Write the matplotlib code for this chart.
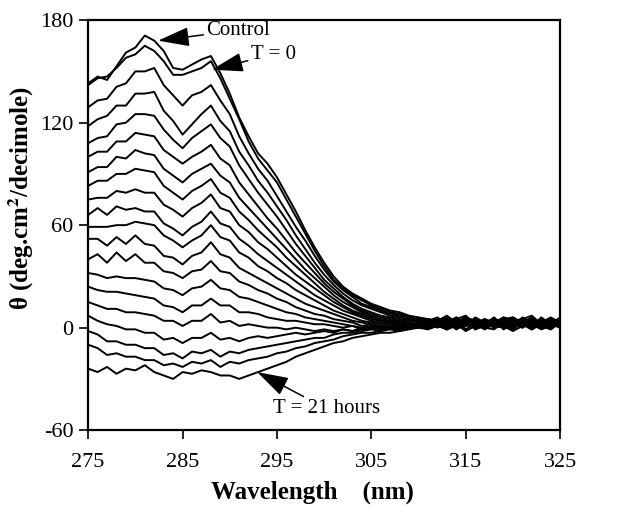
import matplotlib as mpl
mpl.use("Agg")
import matplotlib.pyplot as plt
import numpy as np

plt.rcParams["font.family"] = ["Liberation Serif", "DejaVu Serif"]
plt.rcParams["mathtext.fontset"] = "stix"
plt.rcParams["axes.unicode_minus"] = False

# wavelength grid (nm)
wavelength = list(range(275, 326))

# CD spectra, top (control) to bottom (T = 21 hours)
control = [143, 147, 145, 153, 161, 164, 171, 168, 162, 152, 151, 154, 157, 159, 149, 137, 123,
           112, 102, 96, 88, 78, 68, 57, 47, 38, 30, 24, 20, 17, 14, 12, 10, 9, 7, 6, 5,
           4, 7, 3, 6, 2, 5, 3, 6, 4, 2, 5, 3, 6, 3]
t0 = [142, 146, 147, 152, 158, 160, 165, 162, 156, 148, 148, 150, 152, 156, 146, 134, 122,
      109, 99, 92, 85, 75, 65, 55, 45, 36, 28, 23, 19, 16, 13, 11, 9, 8, 6, 5, 5,
      3, 6, 4, 1, 6, 3, 5, 2, 6, 3, 2, 5, 1, 4]
t1 = [129, 133, 134, 141, 143, 150, 150, 152, 142, 136, 130, 136, 138, 142, 133, 125, 112,
      102, 93, 86, 77, 68, 59, 51, 42, 34, 27, 22, 18, 14, 12, 10, 8, 7, 6, 5, 4,
      6, 2, 5, 7, 2, 4, 1, 5, 6, 2, 4, 1, 5, 3]
t2 = [118, 122, 124, 130, 130, 137, 137, 138, 127, 121, 113, 119, 125, 130, 121, 115, 103,
      95, 86, 79, 71, 63, 54, 46, 38, 31, 25, 20, 16, 13, 11, 9, 7, 6, 5, 4, 5,
      2, 5, 1, 6, 4, 2, 6, 1, 3, 5, 7, 2, 4, 1]
t3 = [108, 111, 112, 119, 120, 125, 125, 124, 116, 110, 105, 111, 115, 119, 111, 106, 95,
      87, 79, 72, 65, 57, 49, 42, 35, 28, 23, 18, 14, 11, 9, 7, 6, 5, 4, 5, 3,
      5, 1, 6, 2, 5, 3, 0, 6, 4, 2, 1, 5, 2, 6]
t4 = [100, 103, 103, 109, 109, 114, 113, 112, 104, 100, 96, 100, 103, 107, 99, 95, 85,
      78, 71, 64, 58, 51, 44, 38, 32, 26, 21, 17, 13, 10, 8, 6, 5, 4, 5, 3, 4,
      1, 5, 3, 6, 1, 3, 5, 0, 3, 5, 1, 6, 2, 4]
t5 = [91, 94, 94, 100, 99, 104, 102, 101, 93, 89, 85, 90, 93, 96, 89, 85, 76,
      70, 64, 58, 52, 46, 40, 34, 29, 24, 19, 15, 12, 9, 7, 5, 4, 4, 3, 4, 2,
      3, 6, 1, 4, 3, 0, 5, 3, 1, 6, 3, 1, 5, 3]
t6 = [83, 86, 86, 90, 90, 93, 92, 91, 83, 79, 75, 80, 83, 87, 79, 76, 68,
      63, 57, 52, 47, 41, 36, 31, 26, 21, 17, 13, 10, 8, 6, 4, 3, 4, 2, 3, 4,
      1, 3, 6, 1, 4, 0, 3, 5, 1, 3, 6, 0, 3, 1]
t7 = [75, 76, 76, 80, 79, 81, 79, 79, 72, 69, 65, 70, 73, 78, 70, 68, 60,
      56, 50, 46, 41, 36, 31, 27, 23, 19, 15, 12, 9, 7, 5, 4, 3, 2, 3, 1, 3,
      3, 5, 0, 3, 2, 5, 1, 0, 4, 5, 1, 3, 0, 4]
t8 = [66, 70, 66, 71, 69, 70, 68, 68, 61, 58, 54, 59, 62, 68, 61, 59, 52,
      48, 43, 39, 35, 31, 27, 23, 19, 16, 13, 10, 8, 6, 4, 3, 2, 3, 1, 2, 3,
      0, 3, 2, 5, 0, 2, 4, 0, 5, 1, 3, 0, 2, 4]
t9 = [59, 59, 59, 60, 60, 62, 61, 60, 54, 51, 47, 51, 54, 60, 53, 51, 44,
      41, 36, 33, 29, 26, 22, 19, 16, 13, 10, 8, 6, 4, 3, 2, 3, 1, 2, 0, 2,
      4, 0, 2, 5, -1, 2, 4, 0, 2, 4, 0, 5, 2, 0]
t10 = [52, 52, 48, 53, 49, 54, 49, 48, 42, 41, 37, 42, 44, 50, 43, 41, 35,
       32, 29, 26, 23, 20, 17, 14, 12, 10, 8, 6, 4, 3, 2, 1, 2, 0, 1, 2, 1,
       2, -1, 4, 1, 2, 5, 0, 2, -1, 4, 2, 0, 4, 2]
t11 = [40, 43, 38, 44, 39, 43, 38, 38, 33, 32, 29, 33, 34, 39, 33, 32, 27,
       25, 22, 20, 17, 15, 12, 10, 8, 7, 5, 4, 3, 1, 2, 0, 1, 2, 0, 1, 3,
       1, 3, -1, 4, 0, 2, 5, -1, 2, 0, 4, 2, -1, 3]
t12 = [32, 31, 29, 30, 29, 29, 28, 27, 23, 22, 19, 23, 24, 28, 23, 22, 18,
       17, 15, 13, 11, 9, 8, 6, 5, 4, 3, 2, 1, 0, 1, -1, 1, 0, 2, 1, 0,
       3, 1, 4, -1, 2, 0, 4, 2, -1, 3, 1, 4, 0, 2]
t13 = [24, 22, 21, 21, 20, 19, 18, 17, 13, 12, 9, 13, 13, 17, 13, 13, 9,
       9, 8, 6, 5, 4, 4, 3, 2, 2, 1, 0, 1, -1, 0, 1, -1, 0, 2, 0, 1,
       4, -1, 2, 1, 4, 0, -1, 3, 1, 4, -1, 2, 1, 4]
t14 = [15, 13, 11, 11, 9, 9, 8, 7, 4, 4, 1, 4, 4, 8, 3, 4, 1,
       2, 1, 0, 0, -1, 0, -1, -2, -1, -2, -1, -2, 0, -1, 1, 0, -1, 1, 0, 2,
       1, 3, 0, 4, -1, 1, 3, 5, 0, 2, -1, 4, 1, 2]
t15 = [7, 4, 2, 1, -1, -1, -3, -3, -7, -6, -9, -6, -6, -3, -7, -6, -8,
       -6, -5, -6, -5, -4, -3, -4, -3, -2, -3, -1, -2, -1, 0, -1, 1, 0, 2, 1, 0,
       2, 0, 4, -1, 2, 4, 0, 2, 5, 0, 3, 1, -1, 3]
t16 = [-2, -4, -8, -8, -10, -10, -12, -12, -16, -15, -18, -14, -15, -13, -17, -14, -15,
       -13, -12, -11, -10, -9, -8, -7, -6, -6, -4, -3, -3, -2, -1, -2, 0, -1, 1, 0, 2,
       1, 4, -1, 2, 0, 3, 2, 5, 0, 2, 4, 1, 5, 2]
t17 = [-10, -12, -16, -15, -17, -17, -19, -19, -22, -21, -23, -20, -21, -19, -23, -20, -21,
       -19, -18, -17, -15, -14, -12, -11, -9, -8, -7, -5, -4, -3, -3, -2, -1, -2, 0, 1, 0,
       2, -1, 1, 4, 2, -1, 2, 4, 0, 2, -1, 3, 4, 0]
t21h = [-24, -26, -23, -27, -24, -25, -22, -26, -28, -30, -26, -27, -25, -26, -28, -28, -30,
        -28, -26, -24, -22, -20, -17, -15, -13, -11, -9, -8, -6, -5, -4, -3, -3, -2, -1, 0, -1,
        1, -1, 2, -2, 1, 0, 3, 1, -2, 1, 2, -1, 1, 2]

spectra = [control, t0, t1, t2, t3, t4, t5, t6, t7, t8, t9, t10, t11, t12, t13, t14, t15, t16, t17, t21h]

fig = plt.figure(figsize=(6.21, 5.17), dpi=100)
ax = fig.add_axes([0.142, 0.168, 0.760, 0.793])

for s in spectra:
    ax.plot(wavelength, s, color="black", linewidth=1.4)

ax.set_xlim(275, 325)
ax.set_ylim(-60, 180)
ax.set_xticks(np.arange(275, 326, 10))
ax.set_yticks(np.arange(-60, 181, 60))
ax.tick_params(direction="out", length=6.5, width=1.2, labelsize=16)
ax.tick_params(axis="x", pad=10)
ax.tick_params(axis="y", pad=4)
for sp in ax.spines.values():
    sp.set_linewidth(1.6)

ax.set_xlabel("Wavelength    (nm)", fontsize=18, fontweight="bold")
ax.xaxis.set_label_coords(0.475, -0.122)
ax.set_ylabel(r"θ (deg.cm$^\mathbf{2}$/decimole)", fontsize=18, fontweight="bold")
ax.yaxis.set_label_coords(-0.11, 0.566)

arrow = dict(arrowstyle="-|>,head_length=1.3,head_width=0.4", color="black", lw=1.1, shrinkA=0, shrinkB=0)
ax.annotate("Control", xy=(282.4, 168), xytext=(287.5, 174), fontsize=15,
            va="center", ha="left", arrowprops=arrow)
ax.annotate("T = 0", xy=(288.1, 151), xytext=(292.2, 160), fontsize=15,
            va="center", ha="left", arrowprops=arrow)
ax.annotate("T = 21 hours", xy=(292.9, -26), xytext=(294.6, -47.5), fontsize=15,
            va="center", ha="left", arrowprops=arrow)

fig.savefig("out.png", dpi=100)
